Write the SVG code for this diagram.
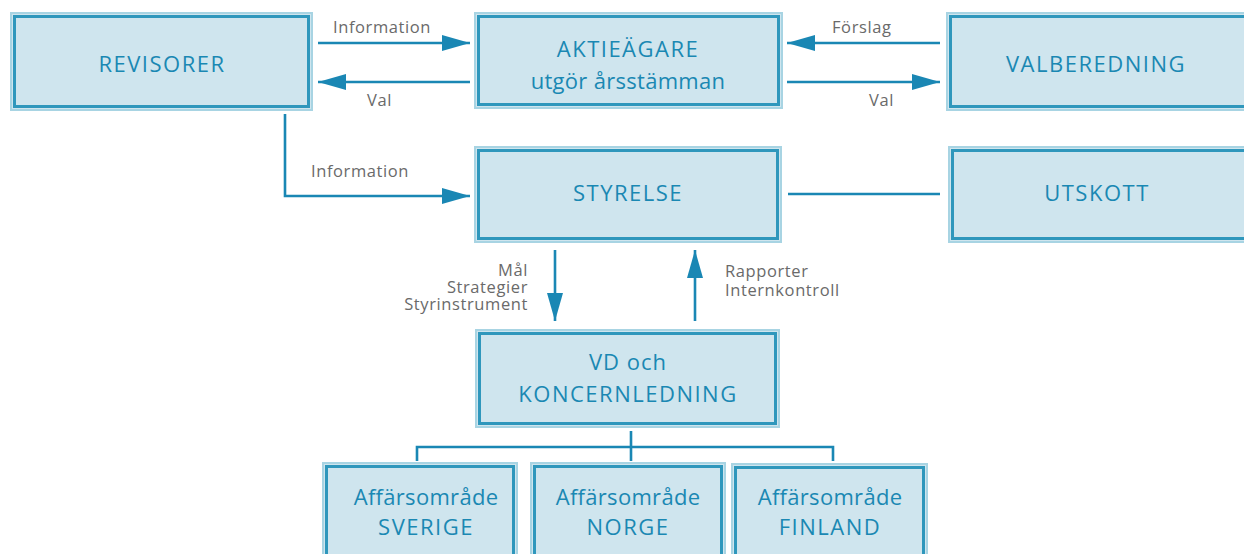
<svg xmlns="http://www.w3.org/2000/svg" width="1244" height="554" viewBox="0 0 1244 554">
<style>
.bo{fill:#cfe5ee;stroke:#a8d4e3;stroke-width:2}
.bi{fill:none;stroke:#2f97bc;stroke-width:3}
.nt{font-family:"Open Sans","Noto Sans",sans-serif;font-size:22px;fill:#1a88b3;text-anchor:middle;letter-spacing:0.3px}
.cap{letter-spacing:1.5px}
.lt{font-family:"Open Sans","Noto Sans",sans-serif;font-size:16.5px;fill:#6a6a6a;letter-spacing:0.6px}
.c{fill:none;stroke:#1a87b4;stroke-width:2.6}
</style>
<defs>
<marker id="ah" markerUnits="userSpaceOnUse" markerWidth="28" markerHeight="16" refX="28" refY="8" orient="auto" viewBox="0 0 28 16">
<path d="M0,0 L28,8 L0,16 z" fill="#1a87b4"/>
</marker>
</defs>
<g id="connectors">
<line class="c" x1="318" y1="43" x2="470" y2="43" marker-end="url(#ah)"/>
<line class="c" x1="470" y1="82" x2="318" y2="82" marker-end="url(#ah)"/>
<line class="c" x1="940" y1="43" x2="787" y2="43" marker-end="url(#ah)"/>
<line class="c" x1="787" y1="82" x2="940" y2="82" marker-end="url(#ah)"/>
<polyline class="c" points="285,114 285,196 470,196" marker-end="url(#ah)"/>
<line class="c" x1="788" y1="194" x2="940" y2="194"/>
<line class="c" x1="555" y1="250" x2="555" y2="321" marker-end="url(#ah)"/>
<line class="c" x1="695" y1="321" x2="695" y2="250" marker-end="url(#ah)"/>
<line class="c" x1="631" y1="431" x2="631" y2="461"/>
<polyline class="c" points="417,461 417,447 833,447 833,461"/>
<text class="lt" x="333" y="33">Information</text>
<text class="lt" x="367" y="106">Val</text>
<text class="lt" x="832" y="33">Förslag</text>
<text class="lt" x="869" y="106">Val</text>
<text class="lt" x="311" y="177">Information</text>
<text class="lt" x="528" y="276" text-anchor="end">Mål</text>
<text class="lt" x="528" y="293" text-anchor="end">Strategier</text>
<text class="lt" x="528" y="310" text-anchor="end">Styrinstrument</text>
<text class="lt" x="725" y="277">Rapporter</text>
<text class="lt" x="725" y="296">Internkontroll</text>
</g>
<g id="revisorer">
<rect class="bo" x="11" y="13" width="301" height="97"/>
<rect class="bi" x="14.5" y="16.5" width="294" height="90"/>
<text class="nt cap" x="162" y="72">REVISORER</text>
</g>
<g id="aktieagare">
<rect class="bo" x="475" y="13" width="307" height="95"/>
<rect class="bi" x="478.5" y="16.5" width="300" height="88"/>
<text class="nt cap" x="628" y="57">AKTIEÄGARE</text>
<text class="nt" x="628" y="89">utgör årsstämman</text>
</g>
<g id="valberedning">
<rect class="bo" x="947" y="13" width="300" height="97"/>
<rect class="bi" x="950.5" y="16.5" width="300" height="90"/>
<text class="nt cap" x="1096" y="72">VALBEREDNING</text>
</g>
<g id="styrelse">
<rect class="bo" x="475" y="147" width="306" height="95"/>
<rect class="bi" x="478.5" y="150.5" width="299" height="88"/>
<text class="nt cap" x="628" y="201">STYRELSE</text>
</g>
<g id="utskott">
<rect class="bo" x="949" y="147" width="300" height="95"/>
<rect class="bi" x="952.5" y="150.5" width="300" height="88"/>
<text class="nt cap" x="1097" y="201">UTSKOTT</text>
</g>
<g id="vd">
<rect class="bo" x="476" y="330" width="303" height="97"/>
<rect class="bi" x="479.5" y="333.5" width="296" height="90"/>
<text class="nt" x="628" y="370" style="letter-spacing:1px">VD och</text>
<text class="nt cap" x="628" y="402">KONCERNLEDNING</text>
</g>
<g id="sverige">
<rect class="bo" x="323" y="463" width="194" height="100"/>
<rect class="bi" x="326.5" y="466.5" width="187" height="100"/>
<text class="nt" x="426" y="505">Affärsområde</text>
<text class="nt cap" x="426" y="535">SVERIGE</text>
</g>
<g id="norge">
<rect class="bo" x="531" y="463" width="194" height="100"/>
<rect class="bi" x="534.5" y="466.5" width="187" height="100"/>
<text class="nt" x="628" y="505">Affärsområde</text>
<text class="nt cap" x="628" y="535">NORGE</text>
</g>
<g id="finland">
<rect class="bo" x="732" y="464" width="195" height="100"/>
<rect class="bi" x="735.5" y="467.5" width="188" height="100"/>
<text class="nt" x="830" y="505">Affärsområde</text>
<text class="nt cap" x="830" y="535">FINLAND</text>
</g>
</svg>
